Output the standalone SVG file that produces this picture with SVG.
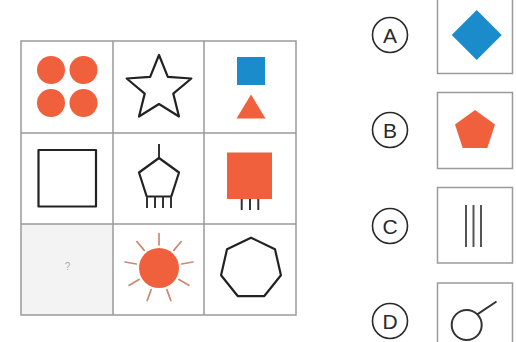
<svg xmlns="http://www.w3.org/2000/svg" width="516" height="342" viewBox="0 0 516 342">
<style>
.grid{fill:none;stroke:#9a9a9a;stroke-width:1.5}
.box{fill:#fff;stroke:#9a9a9a;stroke-width:1.5}
.ink{fill:none;stroke:#222;stroke-width:2.2;stroke-linejoin:round}
.leg{stroke:#333;stroke-width:2}
.org{fill:#f0603c}
.blue{fill:#1a8bcb}
.ray{stroke:#c98a70;stroke-width:1.7;stroke-linecap:round}
.lbl-c{fill:#fff;stroke:#2a2a2a;stroke-width:1.6}
.lbl{font-family:"Liberation Sans",Arial,sans-serif;font-size:21px;fill:#2a2a2a;text-anchor:middle}
</style>
<defs>
<line id="ray" class="ray" x1="159" y1="245" x2="159" y2="233.5"/>
</defs>
<rect width="516" height="342" fill="#fff"/>
<g id="grid">
<rect x="21" y="224" width="92" height="91" fill="#f3f3f3"/>
<rect class="grid" x="21" y="41" width="275" height="274"/>
<line class="grid" x1="113" y1="41" x2="113" y2="315"/>
<line class="grid" x1="204" y1="41" x2="204" y2="315"/>
<line class="grid" x1="21" y1="133" x2="296" y2="133"/>
<line class="grid" x1="21" y1="224" x2="296" y2="224"/>
</g>
<g id="cell-circles">
<circle class="org" cx="51" cy="70" r="14"/>
<circle class="org" cx="83.5" cy="70" r="14"/>
<circle class="org" cx="51" cy="103" r="14"/>
<circle class="org" cx="83.5" cy="103" r="14"/>
</g>
<g id="cell-star">
<polygon class="ink" points="159,55 167.82,76.86 191.34,78.49 173.27,93.64 178.99,116.51 159,104 139.01,116.51 144.73,93.64 126.66,78.49 150.18,76.86"/>
</g>
<g id="cell-square-triangle">
<rect class="blue" x="237" y="57" width="28" height="28"/>
<polygon class="org" points="251,94.5 265.5,118.5 236.5,118.5"/>
</g>
<g id="cell-square">
<rect class="ink" x="38.5" y="150" width="57.5" height="56.5"/>
</g>
<g id="cell-pentagon">
<line class="leg" x1="159" y1="144" x2="159" y2="158"/>
<polygon class="ink" points="159,158 179,172.5 171.3,196.5 146.7,196.5 139,172.5"/>
<line class="leg" x1="147" y1="196.5" x2="147" y2="208"/>
<line class="leg" x1="155" y1="196.5" x2="155" y2="208"/>
<line class="leg" x1="163" y1="196.5" x2="163" y2="208"/>
<line class="leg" x1="171" y1="196.5" x2="171" y2="208"/>
</g>
<g id="cell-orange-square">
<line class="leg" x1="241.7" y1="198" x2="241.7" y2="210" stroke-width="1.6"/>
<line class="leg" x1="250" y1="198" x2="250" y2="210" stroke-width="1.6"/>
<line class="leg" x1="258.3" y1="198" x2="258.3" y2="210" stroke-width="1.6"/>
<rect class="org" x="227" y="152.5" width="45" height="46.5"/>
</g>
<g id="cell-question">
<text x="67.5" y="270" font-family="Liberation Sans, Arial, sans-serif" font-size="10" fill="#aaa" text-anchor="middle">?</text>
</g>
<g id="cell-sun">
<use href="#ray" transform="rotate(0 159 268)"/>
<use href="#ray" transform="rotate(40 159 268)"/>
<use href="#ray" transform="rotate(80 159 268)"/>
<use href="#ray" transform="rotate(120 159 268)"/>
<use href="#ray" transform="rotate(160 159 268)"/>
<use href="#ray" transform="rotate(200 159 268)"/>
<use href="#ray" transform="rotate(240 159 268)"/>
<use href="#ray" transform="rotate(280 159 268)"/>
<use href="#ray" transform="rotate(320 159 268)"/>
<circle class="org" cx="159" cy="268" r="20"/>
</g>
<g id="cell-heptagon">
<polygon class="ink" points="251,237.7 275,249.26 280.93,275.23 264.32,296.06 237.68,296.06 221.07,275.23 227,249.26"/>
</g>
<g id="option-A">
<circle class="lbl-c" cx="390" cy="35" r="17.5"/>
<text class="lbl" x="390" y="42.5">A</text>
<rect class="box" x="437.5" y="-3" width="75" height="76.5"/>
<polygon class="blue" points="476.7,10 501.7,35 476.7,60 451.7,35"/>
</g>
<g id="option-B">
<circle class="lbl-c" cx="390" cy="130" r="17.5"/>
<text class="lbl" x="390" y="137.5">B</text>
<rect class="box" x="437.5" y="92.5" width="75" height="76"/>
<polygon class="org" points="475,110 495,124.5 487.3,148 462.7,148 455,124.5"/>
</g>
<g id="option-C">
<circle class="lbl-c" cx="390" cy="226" r="17.5"/>
<text class="lbl" x="390" y="233.5">C</text>
<rect class="box" x="437.5" y="187.5" width="75" height="75.5"/>
<line x1="466" y1="205" x2="466" y2="247" stroke="#555" stroke-width="2"/>
<line x1="473.5" y1="205" x2="473.5" y2="247" stroke="#555" stroke-width="2"/>
<line x1="481" y1="205" x2="481" y2="247" stroke="#555" stroke-width="2"/>
</g>
<g id="option-D">
<circle class="lbl-c" cx="390" cy="321" r="17.5"/>
<text class="lbl" x="390" y="328.5">D</text>
<rect class="box" x="437.5" y="283" width="75" height="76"/>
<circle cx="466.7" cy="325" r="15" fill="none" stroke="#333" stroke-width="2"/>
<line x1="477.3" y1="314.4" x2="496.5" y2="301.5" stroke="#333" stroke-width="2"/>
</g>
</svg>
